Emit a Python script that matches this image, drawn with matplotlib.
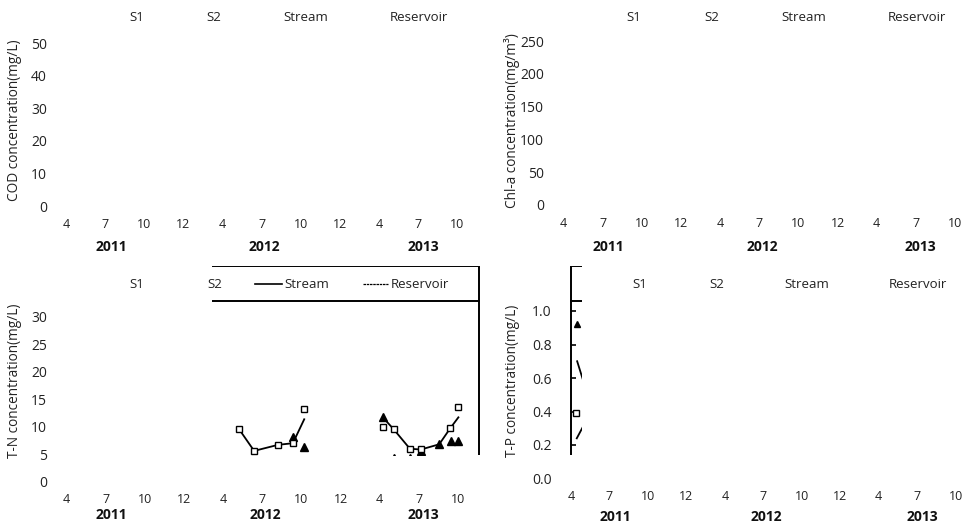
import numpy as np
import matplotlib
matplotlib.use("Agg")
import matplotlib.pyplot as plt
from matplotlib.transforms import Bbox, TransformedBbox, blended_transform_factory

plt.rcParams['font.family'] = ['Open Sans', 'DejaVu Sans']

W, H = 969, 524

# shared category axis: sampling months over three years
months = ['4', '7', '10', '12', '4', '7', '10', '12', '4', '7', '10']
years = ['2011', '2012', '2013']
year_pos = [1.15, 5.07, 9.12]
sites = ['S1', 'S2', 'Stream', 'Reservoir']
site_pos = [1.8, 3.78, 6.13, 9.03]

cod_ticks = [0, 10, 20, 30, 40, 50]
chla_ticks = [0, 50, 100, 150, 200, 250]
tn_ticks = [0, 5, 10, 15, 20, 25, 30]
tp_ticks = [0.0, 0.2, 0.4, 0.6, 0.8, 1.0]

# T-N: positions on the month axis and concentrations (mg/L)
tn_sq_pos = [4.41, 4.79, 5.40, 5.78, 6.07, 8.08, 8.36, 8.77, 9.05, 9.80, 10.01]
tn_sq_val = [9.5, 5.6, 6.7, 7.0, 13.2, 10.0, 9.5, 6.0, 5.9, 9.7, 13.5]
tn_tri_pos = [5.78, 6.07, 8.08, 8.36, 8.77, 9.05, 9.52, 9.82, 10.01]
tn_tri_val = [8.1, 6.4, 11.7, 4.4, 4.4, 5.6, 6.8, 7.4, 7.4]
tn_line_pos = [4.41, 4.79, 5.40, 5.78, 6.07, np.nan, 8.08, 8.36, 8.77, 9.05, 9.52, 9.80, 10.01]
tn_line_val = [9.5, 5.6, 6.7, 7.0, 11.35, np.nan, 11.7, 9.5, 6.0, 5.85, 6.8, 9.7, 11.7]

# T-P (mg/L)
tp_sq_pos = [0.12]
tp_sq_val = [0.39]
tp_tri_pos = [0.16]
tp_tri_val = [0.925]
tp_stream_pos = [0.16, 0.5]
tp_stream_val = [0.70, 0.45]
tp_res_pos = [0.15, 0.5]
tp_res_val = [0.24, 0.39]

fig = plt.figure(figsize=(W / 100, H / 100), dpi=100)


def clip_to(artists, box):
    x0, y0, x1, y1 = box
    bb = TransformedBbox(Bbox.from_extents(x0 / W, 1 - y1 / H, x1 / W, 1 - y0 / H),
                         fig.transFigure)
    for a in artists:
        a.set_clip_path(None)
        a.set_clip_box(bb)
        a.set_clip_on(True)


def panel(left, step, zero, unit, top, right, ticks, ylabel, ylab_xy,
          header_y, month_y, year_y, fmt='{:g}'):
    ax = fig.add_axes([left / W, 1 - zero / H, (right - left) / W, (zero - top) / H])
    ax.set_xlim(0, (right - left) / step)
    ax.set_ylim(0, (zero - top) / unit)
    ax.patch.set_visible(False)
    for s in ax.spines.values():
        s.set_visible(False)
    ax.set_xticks([])
    ax.set_yticks(ticks, [fmt.format(t) for t in ticks])
    ax.tick_params(axis='y', length=0, pad=14, labelsize=10, labelcolor='#222222')

    tr = blended_transform_factory(ax.transData, fig.transFigure)
    for p, m in enumerate(months):
        ax.text(p, 1 - month_y / H, m, transform=tr, ha='center', va='center',
                fontsize=9, color='#222222')
    for p, y in zip(year_pos, years):
        ax.text(p, 1 - year_y / H, y, transform=tr, ha='center', va='center',
                fontsize=10, fontweight='bold', color='#111111')
    for p, s in zip(site_pos, sites):
        ax.text(p, 1 - header_y / H, s, transform=tr, ha='center', va='center',
                fontsize=9.5, color='#222222')
    fig.text(ylab_xy[0] / W, 1 - ylab_xy[1] / H, ylabel, rotation=90,
             ha='center', va='center', fontsize=9.8, color='#222222')
    return ax


def frame(ax, step, ticks, header_y, legend_y, box):
    # plot-area border, legend separator, y-axis ticks and legend samples
    arts = []
    arts += ax.plot([0, 0, 1, 1], [0, 1, 1, 0], transform=ax.transAxes,
                    color='black', lw=1.4)
    tr_fig = blended_transform_factory(ax.transAxes, fig.transFigure)
    arts += ax.plot([0, 1], [1 - legend_y / H] * 2, transform=tr_fig,
                    color='black', lw=1.4)
    arts.append(ax.hlines(ticks, 0, 5 / step, color='black', lw=1.2))
    tr = blended_transform_factory(ax.transData, fig.transFigure)
    arts += ax.plot([4.81, 5.51], [1 - header_y / H] * 2, transform=tr,
                    color='black', lw=1.2)
    arts += ax.plot([7.56, 8.22], [1 - header_y / H] * 2, transform=tr,
                    color='black', lw=0.9, ls=(0, (2, 0.6)))
    clip_to(arts, box)


# COD
panel(66.2, 39.11, 206, 3.254, 43.3, 66.2 + 10.5 * 39.11, cod_ticks,
      'COD concentration(mg/L)', (15, 120), 17.3, 225, 247.3)

# Chl-a
panel(563.7, 39.13, 204.7, 0.6536, 41.3, 563.7 + 10.5 * 39.13, chla_ticks,
      'Chl-a concentration(mg/m³)', (512.3, 121), 17.3, 223.3, 246.7)

# T-N
ax_tn = panel(66.7, 39.13, 481.7, 5.5, 266, 479.3, tn_ticks,
              'T-N concentration(mg/L)', (15, 381), 284.7, 499.3, 515)
box_tn = (212, 266, 481, 454.5)
frame(ax_tn, 39.13, tn_ticks, 284.4, 300.7, box_tn)
arts = []
arts += ax_tn.plot(tn_line_pos, tn_line_val, color='black', lw=1.3)
arts += ax_tn.plot(tn_tri_pos, tn_tri_val, ls='none', marker='^', ms=5.5,
                   color='black')
arts += ax_tn.plot(tn_sq_pos, tn_sq_val, ls='none', marker='s', ms=5,
                   mfc='white', mec='black', mew=1)
clip_to(arts, box_tn)

# T-P
ax_tp = panel(571, 38.47, 478.5, 167.5, 266, 976.5, tp_ticks,
              'T-P concentration(mg/L)', (512.3, 380.5), 284.7, 496.7, 516.7,
              fmt='{:.1f}')
box_tp = (569.5, 266, 582, 454.7)
frame(ax_tp, 38.47, tp_ticks, 284.4, 300.7, box_tp)
arts = []
arts += ax_tp.plot(tp_stream_pos, tp_stream_val, color='black', lw=1.3)
arts += ax_tp.plot(tp_res_pos, tp_res_val, color='black', lw=1.3)
arts += ax_tp.plot(tp_tri_pos, tp_tri_val, ls='none', marker='^', ms=4.5,
                   color='black')
arts += ax_tp.plot(tp_sq_pos, tp_sq_val, ls='none', marker='s', ms=4.5,
                   mfc='white', mec='black', mew=1)
clip_to(arts, box_tp)

fig.savefig('out.png', dpi=100)
